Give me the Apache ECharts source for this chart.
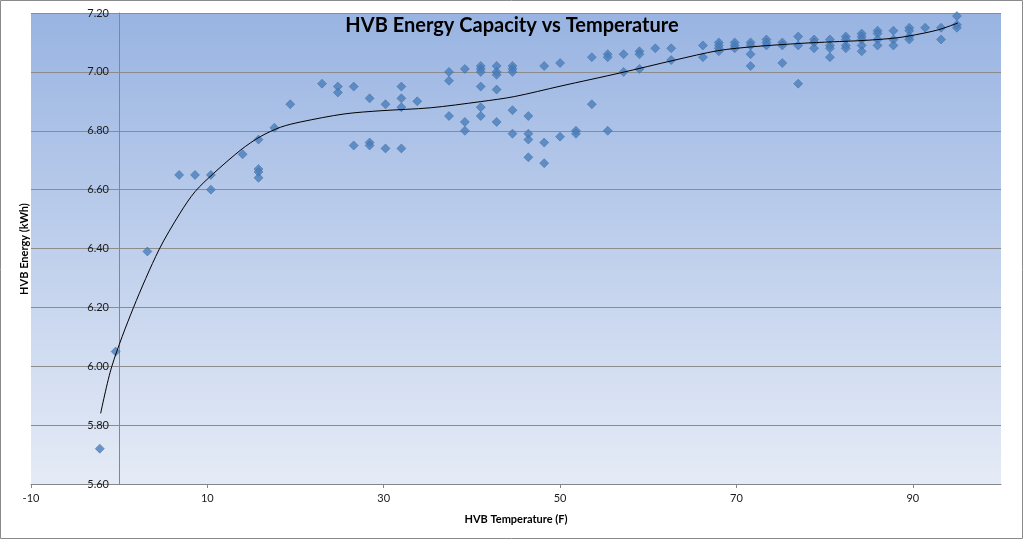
<!DOCTYPE html>
<html>
<head>
<meta charset="utf-8">
<script src="https://cdn.jsdelivr.net/npm/echarts@6/dist/echarts.min.js"></script>
<style>
html,body{margin:0;padding:0;background:#fff;}
#chart{width:1024px;height:540px;}
</style>
</head>
<body>
<div id="chart"></div>
<script>
// Measured points (temperature in F, energy in kWh)
const temperatureF = [
  -2.2, -0.4, 3.2, 6.8, 8.6, 10.4, 10.4, 14,
  15.8, 15.8, 15.8, 15.8, 17.6, 19.4, 23, 24.8, 24.8,
  26.6, 26.6, 28.4, 28.4, 28.4, 30.2, 30.2,
  32, 32, 32, 32, 33.8,
  37.4, 37.4, 37.4, 39.2, 39.2, 39.2,
  41, 41, 41, 41, 41, 41,
  42.8, 42.8, 42.8, 42.8, 42.8,
  44.6, 44.6, 44.6, 44.6, 44.6,
  46.4, 46.4, 46.4, 46.4,
  48.2, 48.2, 48.2, 50, 50, 51.8, 51.8,
  53.6, 53.6, 55.4, 55.4, 55.4, 57.2, 57.2,
  59, 59, 59, 60.8, 62.6, 62.6, 66.2, 66.2,
  68, 68, 68, 68, 69.8, 69.8, 69.8,
  71.6, 71.6, 71.6, 71.6, 73.4, 73.4, 73.4,
  75.2, 75.2, 75.2, 77, 77, 77, 78.8, 78.8, 78.8,
  80.6, 80.6, 80.6, 80.6, 82.4, 82.4, 82.4, 82.4,
  84.2, 84.2, 84.2, 84.2, 84.2, 86, 86, 86, 86,
  87.8, 87.8, 87.8, 89.6, 89.6, 89.6, 89.6,
  91.4, 93.2, 93.2, 95, 95, 95
];
const energyKWh = [
  5.72, 6.05, 6.39, 6.65, 6.65, 6.65, 6.60, 6.72,
  6.77, 6.67, 6.66, 6.64, 6.81, 6.89, 6.96, 6.95, 6.93,
  6.95, 6.75, 6.91, 6.76, 6.75, 6.89, 6.74,
  6.95, 6.91, 6.88, 6.74, 6.90,
  7.00, 6.97, 6.85, 7.01, 6.83, 6.80,
  7.02, 7.01, 7.00, 6.95, 6.88, 6.85,
  7.02, 7.00, 6.99, 6.94, 6.83,
  7.02, 7.01, 7.00, 6.87, 6.79,
  6.85, 6.79, 6.77, 6.71,
  7.02, 6.76, 6.69, 7.03, 6.78, 6.80, 6.79,
  7.05, 6.89, 7.06, 7.05, 6.80, 7.06, 7.00,
  7.07, 7.06, 7.01, 7.08, 7.08, 7.04, 7.09, 7.05,
  7.10, 7.09, 7.08, 7.07, 7.10, 7.09, 7.08,
  7.10, 7.09, 7.06, 7.02, 7.11, 7.10, 7.09,
  7.10, 7.09, 7.03, 7.12, 7.09, 6.96, 7.11, 7.10, 7.08,
  7.11, 7.09, 7.08, 7.05, 7.12, 7.11, 7.09, 7.08,
  7.13, 7.12, 7.11, 7.09, 7.07, 7.14, 7.13, 7.11, 7.09,
  7.14, 7.11, 7.09, 7.15, 7.14, 7.12, 7.11,
  7.15, 7.15, 7.11, 7.19, 7.16, 7.15
];
// Trendline
const trendTemp = [-2.1, -0.83, 1.63, 4.5, 6.9, 8.6, 10.7, 13.8, 16.0, 18.3, 20.6, 25.5, 29.7, 35.3, 41.0, 44.8, 50.1, 56.9, 63.0, 67.9, 72.1, 77.4, 80.8, 84.6, 88.0, 90.3, 92.9, 95.1];
const trendEnergy = [5.84, 6.00, 6.20, 6.395, 6.52, 6.593, 6.655, 6.735, 6.78, 6.812, 6.83, 6.857, 6.868, 6.878, 6.899, 6.916, 6.952, 6.997, 7.04, 7.072, 7.086, 7.097, 7.102, 7.107, 7.115, 7.126, 7.143, 7.166];

const titleText = 'HVB Energy Capacity vs Temperature';
const xAxisName = 'HVB Temperature (F)';
const yAxisName = 'HVB Energy (kWh)';

const points = temperatureF.map((t, i) => [t, energyKWh[i]]);
const trend = trendTemp.map((t, i) => [t, trendEnergy[i]]);

const chart = echarts.init(document.getElementById('chart'), null, {renderer: 'canvas'});
const FONT = 'Lato, "Open Sans", sans-serif';
chart.setOption({
  animation: false,
  backgroundColor: '#ffffff',
  title: {
    text: titleText,
    left: 'center',
    top: 11,
    textStyle: {fontFamily: FONT, fontSize: 20, fontWeight: 'bold', color: '#000'}
  },
  graphic: [
    {type: 'rect', shape: {x: 0.5, y: 0.5, width: 1022, height: 538}, style: {fill: 'none', stroke: '#8a8a8a', lineWidth: 1}, silent: true, z: 100},
    {type: 'text', x: 24, y: 249, rotation: Math.PI / 2,
     style: {text: yAxisName, fontFamily: FONT, fontSize: 11, fontWeight: 'bold', fill: '#000', align: 'center', verticalAlign: 'middle'}}
  ],
  grid: {
    left: 31, right: 23, top: 13, bottom: 56,
    show: true, borderWidth: 0,
    backgroundColor: new echarts.graphic.LinearGradient(0, 0, 0, 1, [
      {offset: 0, color: '#99B4E2'},
      {offset: 1, color: '#E5EBF6'}
    ])
  },
  xAxis: {
    type: 'value', min: -10, max: 100, interval: 20,
    name: xAxisName, nameLocation: 'middle', nameGap: 30,
    nameTextStyle: {fontFamily: FONT, fontSize: 11, fontWeight: 'bold', color: '#000'},
    axisLine: {show: true, onZero: false, lineStyle: {color: '#868686', width: 1}},
    axisTick: {show: true, length: 4, lineStyle: {color: '#868686'}},
    axisLabel: {fontFamily: FONT, fontSize: 11, color: '#1a1a1a', margin: 9, showMaxLabel: false,
      formatter: v => (v === 100 ? '' : String(v))},
    splitLine: {show: false}
  },
  yAxis: {
    type: 'value', min: 5.6, max: 7.2, interval: 0.2,
    axisLine: {show: true, onZero: true, lineStyle: {color: '#868686', width: 1}},
    axisTick: {show: false},
    axisLabel: {fontFamily: FONT, fontSize: 11, color: '#1a1a1a', margin: -78,
      formatter: v => v.toFixed(2)},
    splitLine: {show: true, lineStyle: {color: '#8c8c8c', width: 1}}
  },
  series: [
    {
      type: 'scatter',
      data: points,
      symbol: 'diamond',
      symbolSize: 9,
      itemStyle: {color: '#4A7EBB', borderColor: '#3B699F', borderWidth: 0.6},
      z: 2
    },
    {
      type: 'line',
      data: trend,
      showSymbol: false,
      smooth: 0.3,
      lineStyle: {color: '#000', width: 1},
      z: 3
    }
  ]
});
</script>
</body>
</html>
